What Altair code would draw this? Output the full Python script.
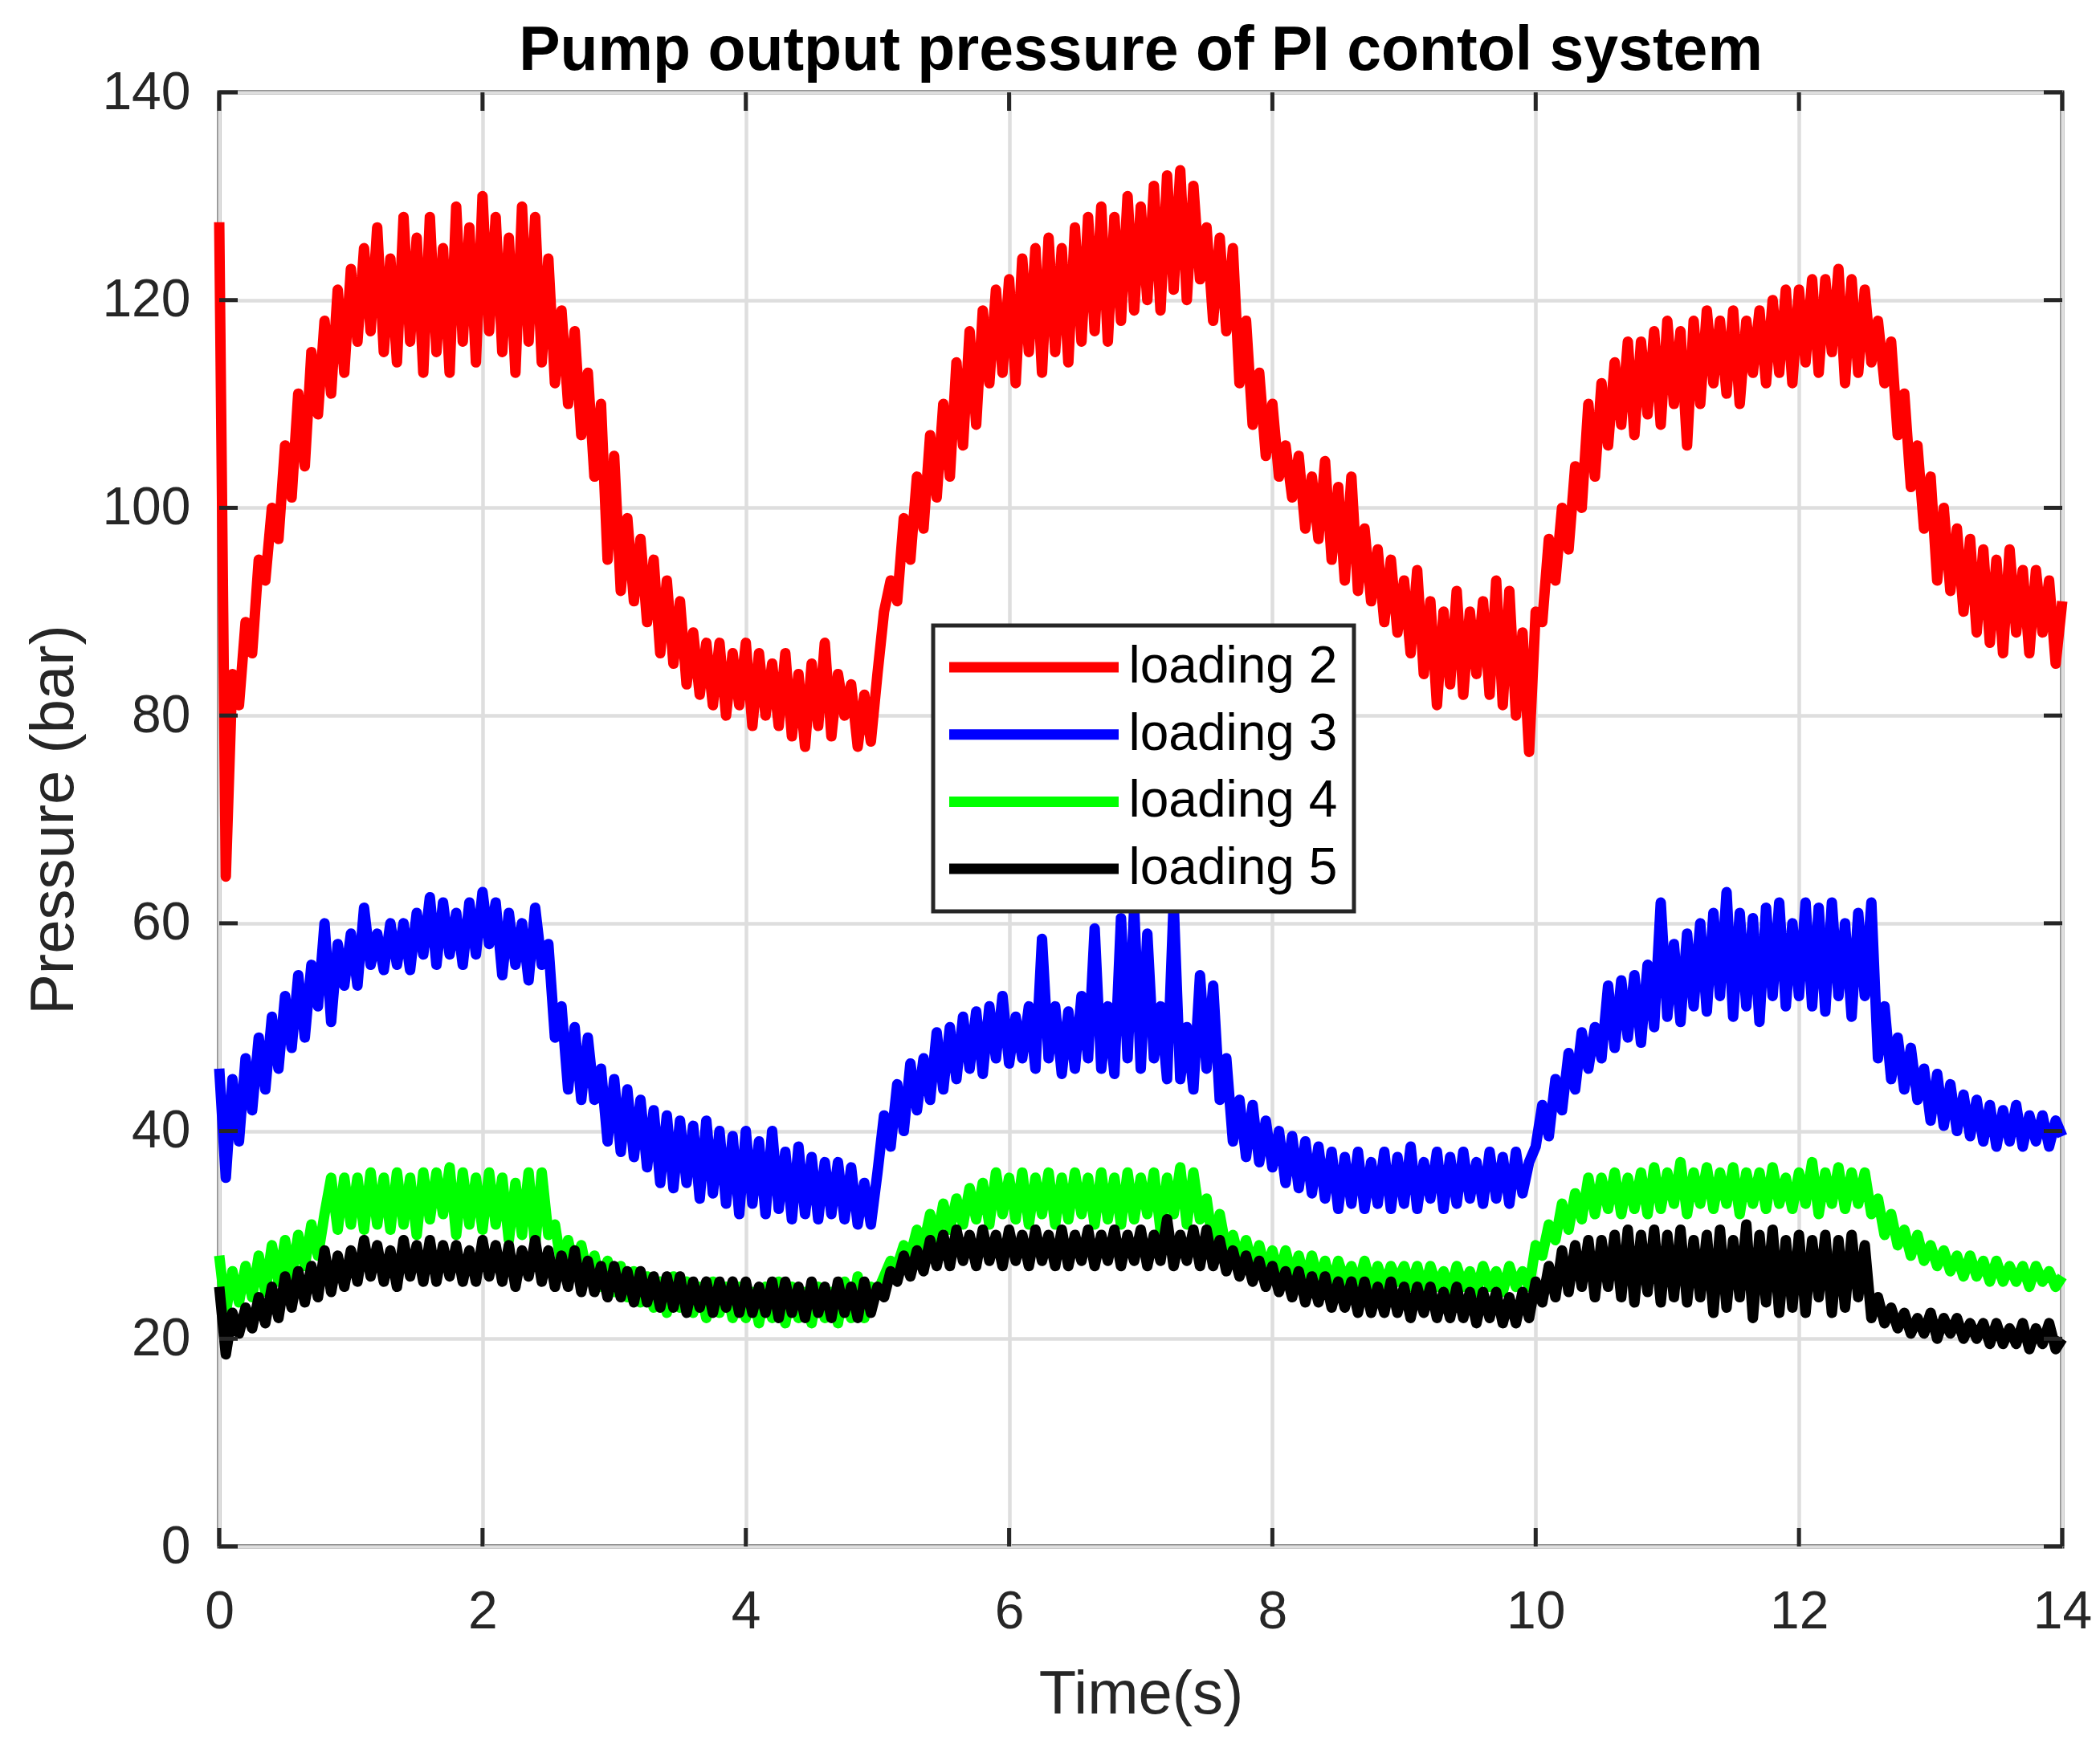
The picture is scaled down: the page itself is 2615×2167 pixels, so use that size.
import altair as alt
import pandas as pd

# sampling step of the recorded signals (s)
STEP = 0.05

series_names = ["loading 2", "loading 3", "loading 4", "loading 5"]
series_colors = ["#ff0000", "#0000ff", "#00ff00", "#000000"]
x_ticks = [0, 2, 4, 6, 8, 10, 12, 14]
y_ticks = [0, 20, 40, 60, 80, 100, 120, 140]

# pressure (bar), one row per second of the record
loading_2 = [
    127.5, 64.5, 84, 81, 89, 86, 95, 93, 100, 97, 106, 101, 111, 104, 115, 109, 118, 111, 121, 113,
    123, 116, 125, 117, 127, 115, 124, 114, 128, 116, 126, 113, 128, 115, 125, 113, 129, 116, 127, 114,
    130, 117, 128, 115, 126, 113, 129, 116, 128, 114, 124, 112, 119, 110, 117, 107, 113, 103, 110, 95,
    105, 92, 99, 91, 97, 89, 95, 86, 93, 85, 91, 83, 88, 82, 87, 81, 87, 80, 86, 81,
    87, 79, 86, 80, 85, 79, 86, 78, 84, 77, 85, 79, 87, 78, 84, 80, 83, 77, 82, 77.5,
    84, 90, 93, 91, 99, 95, 103, 98, 107, 101, 110, 103, 114, 106, 117, 108, 119, 112, 121, 113,
    122, 112, 124, 115, 125, 113, 126, 115, 125, 114, 127, 116, 128, 117, 129, 116, 128, 118, 130, 119,
    129, 120, 131, 119, 132, 121, 132.5, 120, 131, 122, 127, 118, 126, 117, 125, 112, 118, 108, 113, 105,
    110, 103, 106, 101, 105, 98, 103, 97, 104.5, 95, 102, 93, 103, 92, 98, 91, 96, 89, 95, 88,
    93, 86, 94, 84, 91, 81, 90, 83, 92, 82, 90, 84, 91, 82, 93, 81, 92, 80, 88, 76.5,
    90, 89, 97, 93, 100, 96, 104, 100, 110, 103, 112, 106, 114, 108, 116, 107, 116, 109, 117, 108,
    118, 110, 117, 106, 118, 110, 119, 112, 118, 111, 119, 110, 118, 113, 119, 112, 120, 113, 121, 112,
    121, 114, 122, 113, 122, 115, 123, 112, 122, 113, 121, 114, 118, 112, 116, 107, 111, 102, 106, 98,
    103, 93, 100, 92, 98, 90, 97, 88, 96, 87, 95, 86, 96, 88, 94, 86, 94, 88, 93, 85,
    91,
]

loading_3 = [
    46, 35.5, 45, 39, 47, 42, 49, 44, 51, 46, 53, 48, 55, 49, 56, 52, 60, 50.5, 58, 54,
    59, 54, 61.5, 56, 59, 55.5, 60, 56, 60, 55.5, 61, 57, 62.5, 56, 62, 57, 61, 56, 62, 57,
    63, 58, 62, 55, 61, 56, 60, 54.5, 61.5, 56, 58, 49, 52, 44, 50, 43, 49, 43, 46, 39,
    45, 38, 44, 37.5, 43, 36.5, 42, 35, 41.5, 34.5, 41, 35, 40.5, 33.5, 41, 34, 40, 33, 39.5, 32,
    40, 33, 39, 32, 40, 32.5, 38, 31.5, 38.5, 32, 37.5, 31.5, 37, 32, 37, 31.5, 36.5, 31, 35, 31,
    36, 41.5, 38.5, 44.5, 40, 46.5, 42, 47, 43, 49.5, 44, 50, 45, 51, 46, 51.5, 45.5, 52, 47, 53,
    46.5, 51, 47, 52, 46, 58.5, 47, 52, 45.5, 51.5, 46, 53, 47, 59.5, 46, 52, 45.5, 60.5, 47, 61.5,
    46, 59, 47, 52, 45, 62, 45, 50, 44, 55, 46, 54, 43, 47, 39, 43, 37.5, 42.5, 37, 41,
    36.5, 40, 35, 39.5, 34.5, 39, 34, 38.5, 33.5, 38, 32.5, 37.5, 33, 38, 32.5, 37, 33, 38, 32.5, 37.5,
    33, 38.5, 32.5, 37, 33.5, 38, 32.5, 37.5, 33, 38, 33.5, 37, 33, 38, 33.5, 37.5, 33, 38, 34, 37,
    38.5, 42.5, 39.5, 45, 42, 47.5, 44, 49.5, 46, 50, 47, 54, 48, 54.5, 49, 55, 48.5, 56, 50, 62,
    51, 58, 50.5, 59, 52, 60, 51.5, 61, 53, 63, 51, 61, 52, 60.5, 50.5, 61.5, 53, 62, 52, 60,
    53, 62, 52, 61.5, 51.5, 62, 53, 60, 51, 61, 53, 62, 47, 52, 45, 49, 44, 48, 43, 46,
    41, 45.5, 40.5, 44.5, 40, 43.5, 39.5, 43, 39, 42.5, 38.5, 42, 39, 42.5, 38.5, 41.5, 39, 41.5, 38.5, 41,
    39.5,
]

loading_4 = [
    28, 22.5, 26.5, 23.5, 27, 24, 28, 24.5, 29, 25.5, 29.5, 26, 30, 27, 31, 28, 32, 35.5, 30.5, 35.5,
    31, 35.5, 30.5, 36, 31, 35.5, 30.5, 36, 31, 35.5, 30, 36, 31.5, 36, 32, 36.5, 30, 36, 31, 35.5,
    30.5, 36, 31, 35.5, 29.5, 35, 30, 36, 29, 36, 30, 31, 27, 29.5, 26.5, 29, 26, 28, 25, 27.5,
    24.5, 27, 24, 26.5, 23.5, 26, 23, 25.5, 22.5, 26, 23, 25.5, 22.5, 25, 22, 25.5, 22.5, 25, 22, 25,
    22, 24.5, 21.5, 25, 22, 25.5, 21.5, 25, 22, 24.5, 21.5, 25, 22, 24.5, 21.5, 25.5, 22, 26, 22, 25,
    24.5, 26, 27.5, 27, 29, 28, 30.5, 29, 32, 29.5, 33, 30.5, 33.5, 31, 34.5, 31.5, 35, 31, 36, 32,
    35.5, 31.5, 36, 31, 35.5, 32, 36, 31, 35.5, 31.5, 36, 32, 35.5, 31, 36, 31.5, 35.5, 31, 36, 31.5,
    35.5, 32, 36, 30.5, 35.5, 32, 36.5, 31, 36, 31.5, 33.5, 29, 32, 28.5, 30, 27.5, 29.5, 27, 29, 26.5,
    28.5, 26, 28.5, 26, 28, 25.5, 28, 25.5, 27.5, 25, 27.5, 25.5, 27, 25, 27.5, 25, 27, 25, 27, 25.5,
    27, 25, 27, 24.5, 27, 25, 26.5, 24.5, 27, 25, 26.5, 24.5, 27, 25, 26.5, 24.5, 27, 25, 26.5, 25,
    29, 28, 31, 29.5, 33, 30.5, 34, 31.5, 35.5, 32, 35.5, 32.5, 36, 32, 35.5, 32.5, 36, 32, 36.5, 32.5,
    36, 33, 37, 32, 36, 33, 36.5, 32.5, 36, 33, 36.5, 32, 36, 33, 36, 32.5, 36.5, 33, 35.5, 32.5,
    36, 33, 37, 32, 36, 33, 36.5, 32.5, 36, 33, 36, 32, 33.5, 30, 32, 29, 30.5, 28, 30, 27.5,
    29, 27, 28.5, 26.5, 28, 26, 28, 26, 27.5, 25.5, 27.5, 25.5, 27, 25.5, 27, 25, 27, 25.5, 26.5, 25,
    26,
]

loading_5 = [
    25, 18.5, 22.5, 20.5, 23, 21, 24, 21.5, 25, 22, 26, 23, 26.5, 23.5, 27, 24, 28.5, 24.5, 28, 25,
    28.5, 25.5, 29.5, 26, 29, 25.5, 28.5, 25, 29.5, 26, 29, 25.5, 29.5, 25.5, 29, 26, 29, 25.5, 28.5, 25.5,
    29.5, 26, 29, 25.5, 29, 25, 28.5, 26, 29.5, 25.5, 28.5, 25, 28, 25, 28.5, 24.5, 27.5, 24.5, 27, 24,
    27, 24, 26.5, 23.5, 26.5, 23.5, 26, 23, 26, 23, 26, 22.5, 25.5, 23, 25.5, 22.5, 25.5, 23, 25.5, 22.5,
    25.5, 22.5, 25, 22.5, 25.5, 22, 25.5, 22.5, 25, 22, 25.5, 22.5, 25, 22, 25.5, 22.5, 25, 22, 25.5, 22.5,
    25, 24, 26.5, 25.5, 28, 26, 28.5, 26.5, 29.5, 27, 30, 27, 30.5, 27.5, 30, 27, 30.5, 27.5, 30, 27,
    30.5, 27.5, 30, 27, 30.5, 27.5, 30, 27, 30.5, 27, 30, 27.5, 30.5, 27, 30, 27.5, 30.5, 27, 30, 27.5,
    30.5, 27, 30, 27.5, 31.5, 27, 30, 27.5, 30.5, 27, 30.5, 27, 29.5, 26.5, 28.5, 26, 28, 25.5, 27.5, 25,
    27, 24.5, 26.5, 24, 26.5, 23.5, 26, 23.5, 26, 23, 25.5, 23, 25.5, 22.5, 25.5, 22.5, 25, 22.5, 25.5, 22.5,
    25, 22, 25, 22.5, 25, 22, 24.5, 22, 25, 22, 24.5, 21.5, 24.5, 22, 24.5, 21.5, 24, 21.5, 24.5, 22,
    25.5, 23.5, 27, 24, 28.5, 24.5, 29, 25, 29.5, 24, 29.5, 25, 30, 24, 30.5, 23.5, 30, 24.5, 30.5, 23.5,
    30, 24, 30.5, 23.5, 29.5, 24, 30, 22.5, 30.5, 23, 29.5, 24, 31, 22, 30, 23.5, 30.5, 22.5, 29.5, 23,
    30, 22.5, 29.5, 24, 30, 22.5, 29.5, 23, 30, 24, 29, 22, 24, 21.5, 23, 21, 22.5, 20.5, 22, 20.5,
    22.5, 20, 22, 20.5, 22, 20, 21.5, 20, 21.5, 19.5, 21.5, 19.5, 21, 19.5, 21.5, 19, 21, 19.5, 21.5, 19,
    20,
]

rows = []
for name, values in zip(series_names, [loading_2, loading_3, loading_4, loading_5]):
    for i, v in enumerate(values):
        rows.append({"time": round(i * STEP, 2), "pressure": v, "series": name})
df = pd.DataFrame(rows)

W, H = 2295, 1811
FONT = "Liberation Sans"
DARK = "#262626"
TICK = 23

x_scale = alt.Scale(domain=[0, 14], nice=False, zero=False)
y_scale = alt.Scale(domain=[0, 140], nice=False)

x_axis = alt.Axis(
    values=x_ticks, grid=True, gridColor="#dedede", gridWidth=4.5,
    domain=False, ticks=False, tickSize=0,
    labelFont=FONT, labelFontSize=66, labelColor=DARK, labelPadding=101,
    labelBaseline="alphabetic", labelFlush=False, labelOverlap=False,
    title="Time(s)", titleFont=FONT, titleFontSize=76, titleFontWeight="normal",
    titleColor=DARK, titleBaseline="alphabetic", titleY=207,
)
y_axis = alt.Axis(
    values=y_ticks, grid=True, gridColor="#dedede", gridWidth=4.5,
    domain=False, ticks=False, tickSize=0,
    labelFont=FONT, labelFontSize=66, labelColor=DARK, labelPadding=36,
    labelBaseline="middle", labelOverlap=False,
    title="Pressure (bar)", titleFont=FONT, titleFontSize=76, titleFontWeight="normal",
    titleColor=DARK, titleAngle=270, titleBaseline="alphabetic", titleX=-183,
)

lines = alt.Chart(df).mark_line(strokeWidth=13, strokeJoin="round").encode(
    x=alt.X("time:Q", scale=x_scale, axis=x_axis),
    y=alt.Y("pressure:Q", scale=y_scale, axis=y_axis),
    color=alt.Color("series:N",
        scale=alt.Scale(domain=series_names, range=series_colors),
        legend=alt.Legend(
            title=None, orient="none", legendX=889, legendY=664,
            symbolType="stroke", symbolSize=211 * 211, symbolStrokeWidth=13, symbolOffset=-6.5,
            labelFont=FONT, labelFontSize=64, labelColor="#000000", labelLimit=400, labelOffset=6,
            padding=20, rowPadding=19.7, clipHeight=64,
            strokeColor=DARK, fillColor="#ffffff",
        )),
)

# MATLAB style inward ticks on all four sides
xt = alt.Chart(pd.DataFrame({"time": x_ticks}))
yt = alt.Chart(pd.DataFrame({"pressure": y_ticks}))
tick_style = dict(color=DARK, strokeWidth=5)
top_ticks = xt.mark_rule(**tick_style).encode(
    x=alt.X("time:Q", scale=x_scale, axis=x_axis), y=alt.value(0), y2=alt.value(TICK))
bottom_ticks = xt.mark_rule(**tick_style).encode(
    x=alt.X("time:Q", scale=x_scale, axis=x_axis), y=alt.value(H - TICK), y2=alt.value(H))
left_ticks = yt.mark_rule(**tick_style).encode(
    y=alt.Y("pressure:Q", scale=y_scale, axis=y_axis), x=alt.value(0), x2=alt.value(TICK))
right_ticks = yt.mark_rule(**tick_style).encode(
    y=alt.Y("pressure:Q", scale=y_scale, axis=y_axis), x=alt.value(W - TICK), x2=alt.value(W))

chart = alt.layer(lines, top_ticks, bottom_ticks, left_ticks, right_ticks).properties(
    width=W,
    height=H,
    title=alt.TitleParams(
        "Pump output pressure of PI contol system", font=FONT, fontSize=77,
        fontWeight="bold", color="#000000", anchor="middle", frame="group",
        baseline="alphabetic", offset=0, dy=82,
    ),
    autosize=alt.AutoSizeParams(type="none"),
    padding={"left": 265, "top": 107, "right": 39, "bottom": 233},
).configure_view(
    stroke=DARK, strokeWidth=5
).configure_legend(
    strokeWidth=5
)

chart.save("out.html", embed_options={"renderer": "svg", "actions": False})
